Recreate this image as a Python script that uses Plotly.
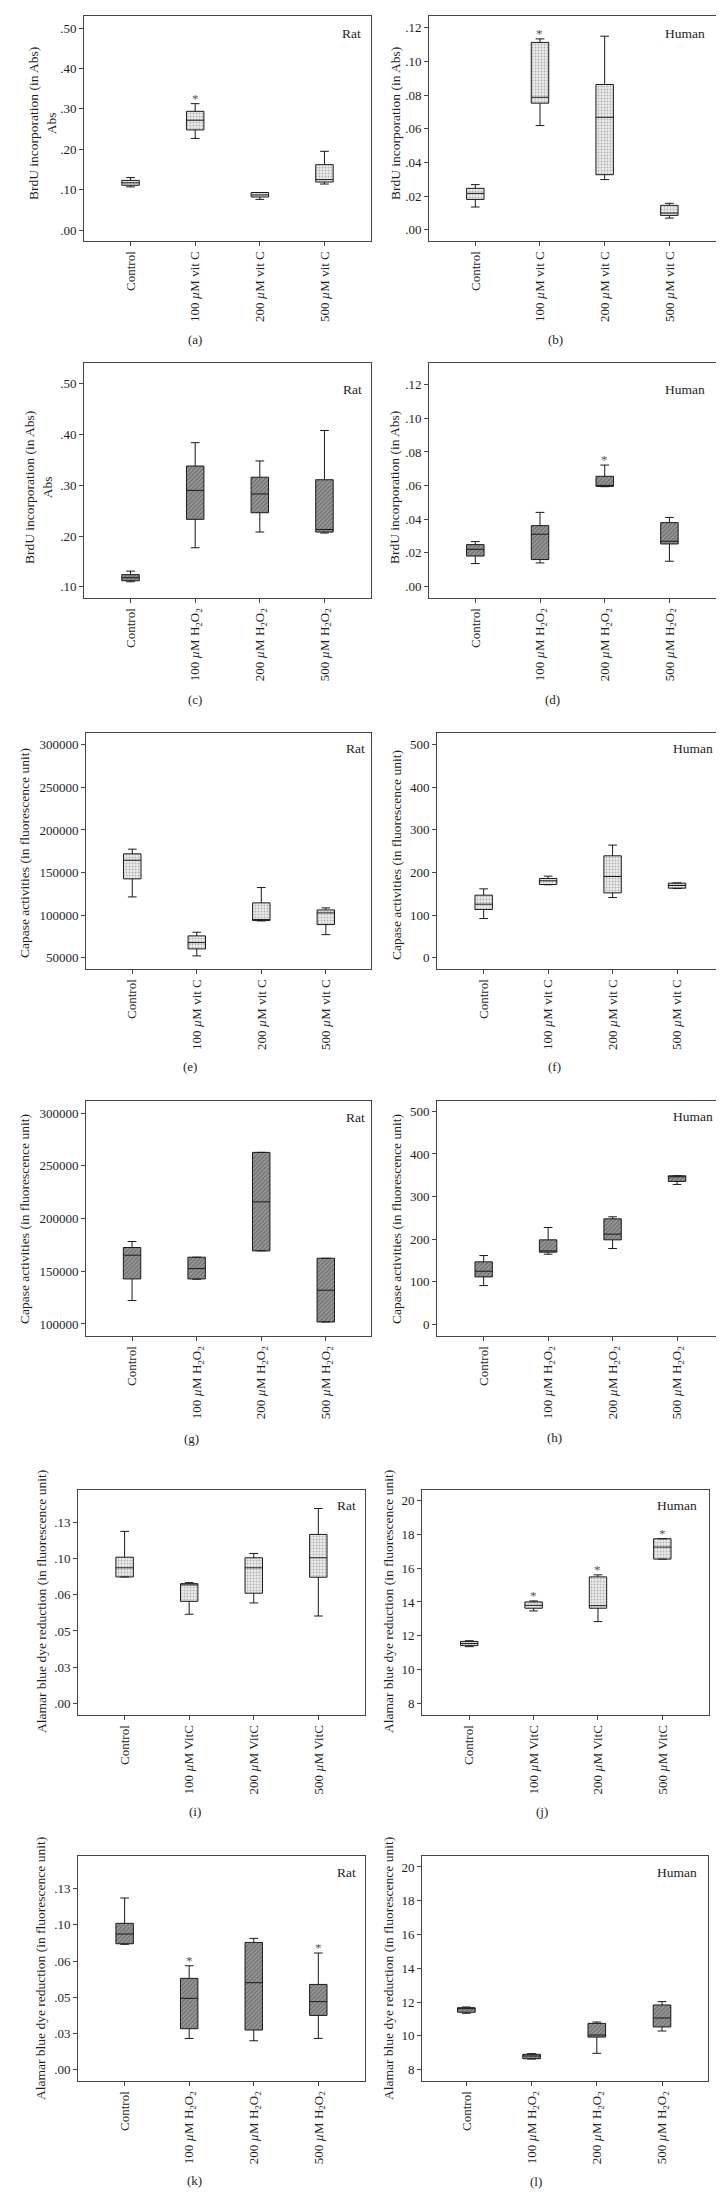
import plotly.graph_objects as go

W, H = 724, 2199
SERIF = "Liberation Serif"

# ---------------- categories ----------------
cats_vitc = ["Control", "100 <i>µ</i>M vit C", "200 <i>µ</i>M vit C", "500 <i>µ</i>M vit C"]
cats_h2o2 = ["Control", "100 <i>µ</i>M H<sub>2</sub>O<sub>2</sub>",
             "200 <i>µ</i>M H<sub>2</sub>O<sub>2</sub>", "500 <i>µ</i>M H<sub>2</sub>O<sub>2</sub>"]
cats_vitc2 = ["Control", "100 <i>µ</i>M VitC", "200 <i>µ</i>M VitC", "500 <i>µ</i>M VitC"]

# ---------------- data (lower whisker, Q1, median, Q3, upper whisker) ----------------
# (a) BrdU, rat, vit C
a_lo = [0.107, 0.227, 0.076, 0.114]
a_q1 = [0.111, 0.248, 0.082, 0.119]
a_med = [0.117, 0.272, 0.087, 0.125]
a_q3 = [0.123, 0.294, 0.093, 0.162]
a_hi = [0.130, 0.313, 0.093, 0.195]
# (b) BrdU, human, vit C
b_lo = [0.0135, 0.0619, 0.0298, 0.0069]
b_q1 = [0.0180, 0.0752, 0.0327, 0.0085]
b_med = [0.0216, 0.0787, 0.0668, 0.0099]
b_q3 = [0.0246, 0.1113, 0.0863, 0.0145]
b_hi = [0.0268, 0.1134, 0.1150, 0.0157]
# (c) BrdU, rat, H2O2
c_lo = [0.110, 0.177, 0.208, 0.206]
c_q1 = [0.112, 0.233, 0.246, 0.208]
c_med = [0.118, 0.290, 0.283, 0.213]
c_q3 = [0.124, 0.338, 0.316, 0.311]
c_hi = [0.131, 0.384, 0.348, 0.408]
# (d) BrdU, human, H2O2
d_lo = [0.0135, 0.0139, 0.0593, 0.0149]
d_q1 = [0.0180, 0.0159, 0.0595, 0.0252]
d_med = [0.0220, 0.0310, 0.0600, 0.0268]
d_q3 = [0.0248, 0.0361, 0.0655, 0.0379]
d_hi = [0.0266, 0.0440, 0.0722, 0.0410]
# (e) Caspase, rat, vit C
e_lo = [121300, 52000, 93100, 77000]
e_q1 = [142500, 60200, 93500, 88800]
e_med = [164400, 67600, 94700, 102500]
e_q3 = [171900, 75500, 114300, 106000]
e_hi = [177400, 79800, 132300, 108400]
# (f) Caspase, human, vit C
f_lo = [91.7, 171.0, 141.0, 162.2]
f_q1 = [112.9, 171.6, 152.0, 163.0]
f_med = [125.4, 180.3, 190.4, 169.3]
f_q3 = [146.6, 185.7, 239.0, 174.8]
f_hi = [161.4, 191.2, 264.1, 175.5]
# (g) Caspase, rat, H2O2
g_lo = [122200, 142400, 169300, 101900]
g_q1 = [142700, 142700, 169300, 101900]
g_med = [165200, 152500, 215800, 132000]
g_q3 = [172500, 163300, 262700, 162300]
g_hi = [178200, 163300, 262700, 162300]
# (h) Caspase, human, H2O2
h_lo = [90.9, 164.6, 177.9, 328.4]
h_q1 = [111.3, 169.3, 198.3, 335.4]
h_med = [124.6, 172.4, 211.6, 346.4]
h_q3 = [146.6, 198.3, 247.6, 348.7]
h_hi = [161.4, 227.3, 252.4, 348.7]
# (i) Alamar blue, rat, vit C
i_lo = [0.0872, 0.0615, 0.0693, 0.0603]
i_q1 = [0.0872, 0.0704, 0.0760, 0.0870]
i_med = [0.0935, 0.0817, 0.0935, 0.1004]
i_q3 = [0.1008, 0.0826, 0.1004, 0.1165]
i_hi = [0.1186, 0.0833, 0.1034, 0.1344]
# (j) Alamar blue, human, vit C
j_lo = [11.36, 13.47, 12.84, 16.53]
j_q1 = [11.42, 13.63, 13.63, 16.53]
j_med = [11.55, 13.80, 13.78, 17.24]
j_q3 = [11.67, 14.00, 15.48, 17.73]
j_hi = [11.71, 14.06, 15.60, 17.73]
# (k) Alamar blue, rat, H2O2
k_lo = [0.0866, 0.0216, 0.0200, 0.0216]
k_q1 = [0.0870, 0.0283, 0.0274, 0.0375]
k_med = [0.0937, 0.0493, 0.0601, 0.0470]
k_q3 = [0.1011, 0.0631, 0.0879, 0.0589]
k_hi = [0.1186, 0.0718, 0.0907, 0.0806]
# (l) Alamar blue, human, H2O2
l_lo = [11.34, 8.63, 8.97, 10.29]
l_q1 = [11.40, 8.65, 9.93, 10.53]
l_med = [11.61, 8.81, 10.05, 11.06]
l_q3 = [11.67, 8.91, 10.74, 11.83]
l_hi = [11.71, 8.95, 10.82, 12.03]

# significance markers (category indexes)
a_star = [1]
b_star = [1]
d_star = [2]
j_star = [1, 2, 3]
k_star = [1, 3]

# ---------------- y tick labels ----------------
abs1_vals = [0, 0.1, 0.2, 0.3, 0.4, 0.5]
abs1_text = [".00", ".10", ".20", ".30", ".40", ".50"]
abs2_vals = [0.1, 0.2, 0.3, 0.4, 0.5]
abs2_text = [".10", ".20", ".30", ".40", ".50"]
absh_vals = [0, 0.02, 0.04, 0.06, 0.08, 0.10, 0.12]
absh_text = [".00", ".02", ".04", ".06", ".08", ".10", ".12"]
casr1_vals = [50000, 100000, 150000, 200000, 250000, 300000]
casr2_vals = [100000, 150000, 200000, 250000, 300000]
cash_vals = [0, 100, 200, 300, 400, 500]
alr_vals = [0, 0.025, 0.05, 0.075, 0.1, 0.125]
alr_text = [".00", ".03", ".05", ".06", ".10", ".13"]
alh_vals = [8, 10, 12, 14, 16, 18, 20]

# fill styles: dotted light (vit C) and hatched dark (H2O2)
LIGHT = dict(shape=".", fgcolor="#7a7a7a", bgcolor="#ececec", size=3, solidity=0.35)
DARK = dict(shape="/", fgcolor="#444444", bgcolor="#9a9a9a", size=3, solidity=0.45)

t_brdu2 = "BrdU incorporation (in Abs)<br>Abs"
t_brdu = "BrdU incorporation (in Abs)"
t_cas = "Capase activities (in fluorescence unit)"
t_al = "Alamar blue dye reduction (in fluorescence unit)"

# panel layout in pixels: frame x0,x1,y0,y1
panels = [
    dict(lab="(a)", st=(a_lo, a_q1, a_med, a_q3, a_hi), fill=LIGHT, cats=cats_vitc, frame=(76, 363, 8, 233),
         yr=[-0.027, 0.53], tv=abs1_vals, tt=abs1_text, xr=[-0.72, 3.72], sp="Rat", sppos=(343, 25),
         title=t_brdu2, tpos=(34, 116), lpos=(187, 331), stars=a_star),
    dict(lab="(b)", st=(b_lo, b_q1, b_med, b_q3, b_hi), fill=LIGHT, cats=cats_vitc, frame=(421, 720, 8, 233),
         yr=[-0.0067, 0.127], tv=absh_vals, tt=absh_text, xr=[-0.716, 3.907], sp="Human", sppos=(677, 25),
         title=t_brdu, tpos=(387, 116), lpos=(547, 331), stars=b_star),
    dict(lab="(c)", st=(c_lo, c_q1, c_med, c_q3, c_hi), fill=DARK, cats=cats_h2o2, frame=(76, 363, 355, 590),
         yr=[0.078, 0.541], tv=abs2_vals, tt=abs2_text, xr=[-0.72, 3.72], sp="Rat", sppos=(344, 381),
         title=t_brdu2, tpos=(31, 480), lpos=(187, 692), stars=[]),
    dict(lab="(d)", st=(d_lo, d_q1, d_med, d_q3, d_hi), fill=DARK, cats=cats_h2o2, frame=(421, 708, 355, 590),
         yr=[-0.007, 0.133], tv=absh_vals, tt=absh_text, xr=[-0.716, 3.72], sp="Human", sppos=(677, 381),
         title=t_brdu, tpos=(387, 480), lpos=(544, 691), stars=d_star),
    dict(lab="(e)", st=(e_lo, e_q1, e_med, e_q3, e_hi), fill=LIGHT, cats=cats_vitc, frame=(78, 363, 725, 961),
         yr=[36600, 313900], tv=casr1_vals, tt=[str(v) for v in casr1_vals], xr=[-0.717, 3.70], sp="Rat",
         sppos=(347, 741), title=t_cas, tpos=(16, 845), lpos=(182, 1058), stars=[]),
    dict(lab="(f)", st=(f_lo, f_q1, f_med, f_q3, f_hi), fill=LIGHT, cats=cats_vitc, frame=(429, 715, 725, 961),
         yr=[-26.8, 527.4], tv=cash_vals, tt=[str(v) for v in cash_vals], xr=[-0.724, 3.713], sp="Human",
         sppos=(685, 741), title=t_cas, tpos=(388, 847), lpos=(546, 1058), stars=[]),
    dict(lab="(g)", st=(g_lo, g_q1, g_med, g_q3, g_hi), fill=DARK, cats=cats_h2o2, frame=(78, 363, 1093, 1328),
         yr=[88600, 311400], tv=casr2_vals, tt=[str(v) for v in casr2_vals], xr=[-0.713, 3.70], sp="Rat",
         sppos=(347, 1109), title=t_cas, tpos=(16, 1211), lpos=(183, 1430), stars=[]),
    dict(lab="(h)", st=(h_lo, h_q1, h_med, h_q3, h_hi), fill=DARK, cats=cats_h2o2, frame=(429, 715, 1093, 1328),
         yr=[-27.5, 524.3], tv=cash_vals, tt=[str(v) for v in cash_vals], xr=[-0.724, 3.713], sp="Human",
         sppos=(685, 1108), title=t_cas, tpos=(388, 1211), lpos=(546, 1429), stars=[]),
    dict(lab="(i)", st=(i_lo, i_q1, i_med, i_q3, i_hi), fill=LIGHT, cats=cats_vitc2, frame=(70, 357, 1482, 1707),
         yr=[-0.0079, 0.1471], tv=alr_vals, tt=alr_text, xr=[-0.722, 3.723], sp="Rat", sppos=(338, 1497),
         title=t_al, tpos=(33, 1594), lpos=(187, 1803), stars=[]),
    dict(lab="(j)", st=(j_lo, j_q1, j_med, j_q3, j_hi), fill=LIGHT, cats=cats_vitc2, frame=(414, 701, 1482, 1707),
         yr=[7.325, 20.61], tv=alh_vals, tt=[str(v) for v in alh_vals], xr=[-0.734, 3.725], sp="Human",
         sppos=(669, 1497), title=t_al, tpos=(380, 1594), lpos=(534, 1803), stars=j_star),
    dict(lab="(k)", st=(k_lo, k_q1, k_med, k_q3, k_hi), fill=DARK, cats=cats_h2o2, frame=(70, 357, 1848, 2073),
         yr=[-0.0078, 0.1476], tv=alr_vals, tt=alr_text, xr=[-0.722, 3.723], sp="Rat", sppos=(338, 1864),
         title=t_al, tpos=(32, 1961), lpos=(187, 2172), stars=k_star),
    dict(lab="(l)", st=(l_lo, l_q1, l_med, l_q3, l_hi), fill=DARK, cats=cats_h2o2, frame=(414, 700, 1848, 2073),
         yr=[7.33, 20.65], tv=alh_vals, tt=[str(v) for v in alh_vals], xr=[-0.68, 3.705], sp="Human",
         sppos=(669, 1864), title=t_al, tpos=(380, 1961), lpos=(528, 2173), stars=[]),
]

fig = go.Figure()
annotations = []
layout = {}
FRAME = "#444444"
TXT = "#1e1e1e"
BOXW = 0.27

for n, p in enumerate(panels, start=1):
    sx = "" if n == 1 else str(n)
    xa, ya = "x" + sx, "y" + sx
    lo, q1, med, q3, hi = p["st"]
    # textured box body (bar from Q1 to Q3)
    fig.add_trace(go.Bar(
        x=[0, 1, 2, 3], base=q1, y=[b - a for a, b in zip(q1, q3)], width=BOXW,
        marker=dict(color=p["fill"]["bgcolor"], line=dict(width=0), pattern=p["fill"]),
        xaxis=xa, yaxis=ya, showlegend=False, hoverinfo="skip"))
    fig.add_trace(go.Box(
        x=[0, 1, 2, 3], q1=q1, median=med, q3=q3, lowerfence=lo, upperfence=hi,
        width=BOXW, whiskerwidth=0.5, fillcolor="rgba(0,0,0,0)", boxpoints=False,
        line=dict(color="#1a1a1a", width=1), xaxis=xa, yaxis=ya, showlegend=False,
        hoverinfo="skip"))
    x0, x1, y0, y1 = p["frame"]
    axis_common = dict(showgrid=False, zeroline=False, showline=True, mirror=True,
                       linecolor=FRAME, linewidth=1, ticks="outside", ticklen=4,
                       tickcolor=FRAME, tickfont=dict(family=SERIF, size=13, color=TXT))
    layout["xaxis" + sx] = dict(axis_common, domain=[x0 / W, x1 / W], range=p["xr"],
                                tickmode="array", tickvals=[0, 1, 2, 3], ticktext=p["cats"],
                                tickangle=-90, anchor=ya, fixedrange=True)
    layout["yaxis" + sx] = dict(axis_common, domain=[1 - y1 / H, 1 - y0 / H], range=p["yr"],
                                tickmode="array", tickvals=p["tv"], ticktext=p["tt"],
                                anchor=xa, fixedrange=True)
    # species label
    annotations.append(dict(text=p["sp"], xref="paper", yref="paper", x=p["sppos"][0] / W,
                            y=1 - p["sppos"][1] / H, xanchor="center", yanchor="middle",
                            showarrow=False, font=dict(family=SERIF, size=13.5, color=TXT)))
    # y title
    annotations.append(dict(text=p["title"], xref="paper", yref="paper", x=p["tpos"][0] / W,
                            y=1 - p["tpos"][1] / H, xanchor="center", yanchor="middle",
                            textangle=-90, showarrow=False,
                            font=dict(family=SERIF, size=13.5, color=TXT)))
    # panel label
    annotations.append(dict(text=p["lab"], xref="paper", yref="paper", x=p["lpos"][0] / W,
                            y=1 - p["lpos"][1] / H, xanchor="center", yanchor="middle",
                            showarrow=False, font=dict(family=SERIF, size=13, color=TXT)))
    for s in p["stars"]:
        annotations.append(dict(text="*", xref=xa, yref=ya, x=s, y=hi[s], xanchor="center",
                                yanchor="bottom", yshift=-4, showarrow=False,
                                font=dict(family=SERIF, size=13, color="#555555")))

fig.update_layout(width=W, height=H, margin=dict(l=0, r=0, t=0, b=0),
                  paper_bgcolor="white", plot_bgcolor="white", barmode="overlay",
                  annotations=annotations, **layout)

fig.write_html("out.html")
